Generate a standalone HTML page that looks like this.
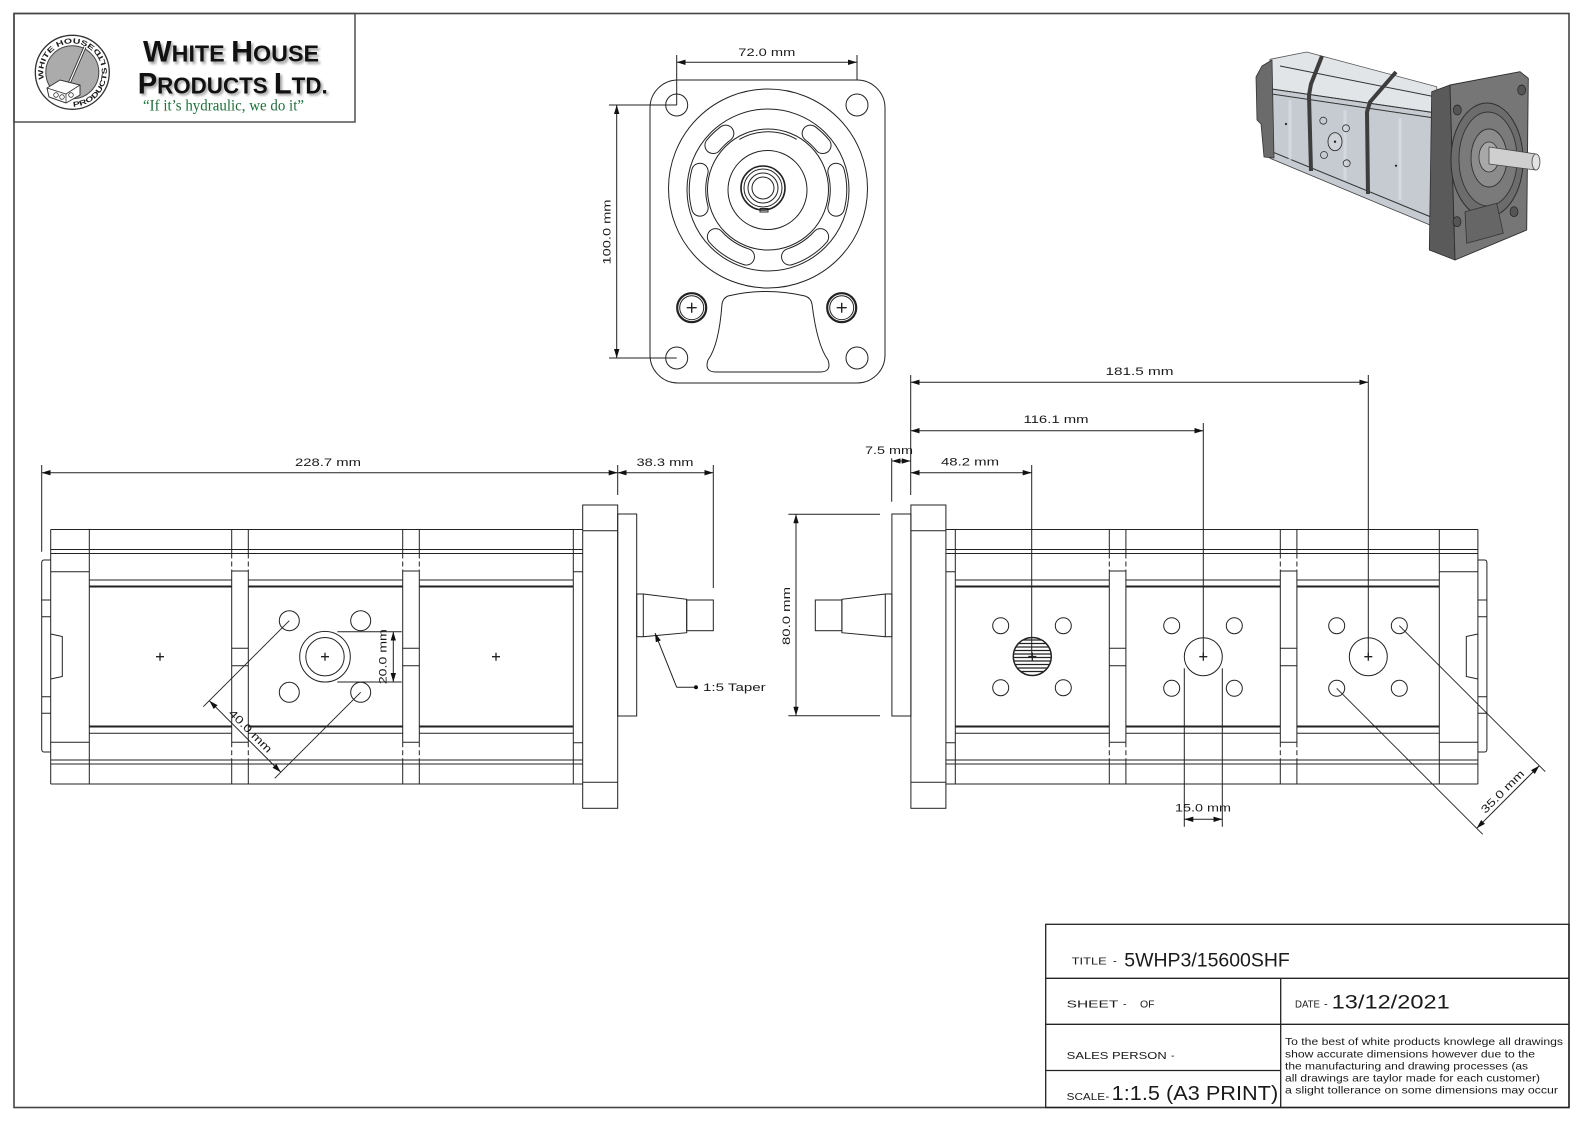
<!DOCTYPE html>
<html><head><meta charset="utf-8"><style>
html,body{margin:0;padding:0;background:#fff;}
svg{display:block;}
text{font-family:"Liberation Sans",Arial,sans-serif;fill:#1a1a1a;}
</style></head><body>
<svg width="1587" height="1122" viewBox="0 0 1587 1122" xmlns="http://www.w3.org/2000/svg">
<defs>
<marker id="ar" viewBox="0 0 10 6" refX="10" refY="3" markerWidth="9" markerHeight="5.4" markerUnits="userSpaceOnUse" orient="auto-start-reverse"><path d="M0,0L10,3L0,6z" fill="#111"/></marker>
<clipPath id="hc"><circle cx="1032.3" cy="656.5" r="18.5"/></clipPath>
<filter id="sh" x="-10%" y="-30%" width="130%" height="160%"><feGaussianBlur stdDeviation="1.3"/></filter>
<path id="arcTop" d="M45.05,82.2 A29,29 0 0 1 94.5,53.66" fill="none"/>
<path id="arcBot" d="M47.9,96.7 A34.5,34.5 0 1 0 89.55,42.4" fill="none"/>
<g id="body" fill="none" stroke="#222" stroke-width="1">
<path d="M50.7,560H44Q41.7,560 41.7,563V749Q41.7,752 44,752H50.7"/>
<path d="M41.7,600H50.7M41.7,616.7H50.7M41.7,696.7H50.7M41.7,713.3H50.7"/>
<path d="M50.7,634L62.3,636.5V676.5L50.7,679"/>
<path d="M50.7,529.5H582.7M50.7,549.5H582.7M50.7,553.5H582.7M50.7,760H582.7M50.7,764H582.7M50.7,784H582.7"/>
<path d="M50.7,529.5V784M89.3,529.5V784M50.7,571.7H89.3M50.7,742.3H89.3"/>
<path d="M89.3,580H231.7M248.3,580H402.7M419.3,580H573.3M89.3,733.3H231.7M248.3,733.3H402.7M419.3,733.3H573.3"/>
<path stroke-width="2" d="M89.3,586.5H231.7M248.3,586.5H402.7M419.3,586.5H573.3M89.3,726.5H231.7M248.3,726.5H402.7M419.3,726.5H573.3"/>
<path d="M231.7,529.5V553.5M231.7,571V742.3M231.7,760V784M248.3,529.5V553.5M248.3,571V742.3M248.3,760V784M402.7,529.5V553.5M402.7,571V742.3M402.7,760V784M419.3,529.5V553.5M419.3,571V742.3M419.3,760V784"/>
<path stroke-dasharray="5,3" d="M231.7,553.5V571M231.7,742.3V760M248.3,553.5V571M248.3,742.3V760M402.7,553.5V571M402.7,742.3V760M419.3,553.5V571M419.3,742.3V760"/>
<path d="M231.7,571H248.3M231.7,742.3H248.3M231.7,648.3H248.3M231.7,665.7H248.3M402.7,571H419.3M402.7,742.3H419.3M402.7,648.3H419.3M402.7,665.7H419.3"/>
<path d="M573.3,529.5V784M573.3,571.7H582.7M573.3,742.7H582.7"/>
<rect x="582.7" y="505" width="35" height="303.3"/>
<path d="M582.7,530.7H617.7M582.7,782.3H617.7"/>
<rect x="617.7" y="514" width="19" height="202"/>
<rect x="636.7" y="594" width="6.6" height="42.7"/>
<path d="M643.3,594L686.7,599.3V632.7L643.3,636.7"/>
<rect x="686.7" y="600" width="26.6" height="30.7"/>
</g>
</defs>

<!-- outer frame -->
<rect x="14" y="13.5" width="1555" height="1094" fill="none" stroke="#444" stroke-width="1.6"/>

<!-- logo box -->
<rect x="14" y="13.5" width="341" height="108.5" fill="none" stroke="#444" stroke-width="1.4"/>
<circle cx="72.3" cy="72.3" r="37" fill="#fff" stroke="#333" stroke-width="1.3"/>
<circle cx="72.3" cy="72.3" r="26.5" fill="#ababab" stroke="#444" stroke-width="1"/>
<text font-size="7.2" font-weight="bold"><textPath href="#arcTop" startOffset="3" textLength="74" lengthAdjust="spacingAndGlyphs">WHITE HOUSE</textPath></text>
<text font-size="7.2" font-weight="bold"><textPath href="#arcBot" startOffset="28" textLength="80" lengthAdjust="spacingAndGlyphs">PRODUCTS LTD</textPath></text>
<path d="M68,86 L85,47" stroke="#333" stroke-width="3"/>
<path d="M68,86 L85,47" stroke="#fff" stroke-width="1.2"/>
<path d="M47,88 L60,80 L80,85 L80,95 L66,103 L49,97 Z" fill="#fff" stroke="#333" stroke-width="1"/>
<path d="M47,88 L66,94 L80,85 M66,94 V103" fill="none" stroke="#333" stroke-width="0.8"/>
<circle cx="56" cy="95" r="2.3" fill="none" stroke="#333" stroke-width="0.8"/>
<circle cx="62" cy="97" r="2.3" fill="none" stroke="#333" stroke-width="0.8"/>
<circle cx="71" cy="95" r="2.3" fill="none" stroke="#333" stroke-width="0.8"/>
<g filter="url(#sh)" opacity="0.55">
<text x="145" y="64" font-weight="bold" font-size="30" textLength="176" lengthAdjust="spacingAndGlyphs" style="fill:#555">W<tspan font-size="23">HITE </tspan>H<tspan font-size="23">OUSE</tspan></text>
<text x="139.7" y="95.5" font-weight="bold" font-size="30" textLength="190" lengthAdjust="spacingAndGlyphs" style="fill:#555">P<tspan font-size="23">RODUCTS </tspan>L<tspan font-size="23">TD.</tspan></text>
</g>
<text x="143" y="61.5" font-weight="bold" font-size="30" textLength="176" lengthAdjust="spacingAndGlyphs" style="fill:#111">W<tspan font-size="23">HITE </tspan>H<tspan font-size="23">OUSE</tspan></text>
<text x="137.7" y="93.3" font-weight="bold" font-size="30" textLength="190" lengthAdjust="spacingAndGlyphs" style="fill:#111">P<tspan font-size="23">RODUCTS </tspan>L<tspan font-size="23">TD.</tspan></text>
<text x="143" y="110.5" font-size="15.5" textLength="161" lengthAdjust="spacingAndGlyphs" style="font-family:'Liberation Serif',serif;fill:#1f6e3b">“If it’s hydraulic, we do it”</text>

<!-- FRONT VIEW -->
<g fill="none" stroke="#222" stroke-width="1">
<rect x="650" y="80" width="235" height="303" rx="28"/>
<circle cx="676.7" cy="105" r="11"/>
<circle cx="857" cy="105" r="11"/>
<circle cx="676.7" cy="358" r="11"/>
<circle cx="857" cy="358" r="11"/>
<circle cx="768" cy="188.5" r="99.5"/>
<circle cx="768" cy="190" r="81"/>
<circle cx="768" cy="189.5" r="60.5"/>
<path d="M739.25,139.4 A58,58 0 0 1 796.75,139.4"/>
<circle cx="767.5" cy="190" r="39.5"/>
<circle cx="763" cy="188" r="22" stroke-width="1.6"/>
<circle cx="763" cy="188" r="19"/>
<circle cx="763" cy="188" r="15"/>
<circle cx="763" cy="188" r="11"/>
<rect x="760" y="208.5" width="8" height="3.5"/>
</g>
<g fill="none" stroke-linecap="round">
<path stroke="#222" stroke-width="17.5" d="M713.2,145.3 A70.5,70.5 0 0 1 725.6,133.4 M810.4,133.4 A70.5,70.5 0 0 1 822.8,145.3 M836.1,171.5 A70.5,70.5 0 0 1 836.1,207.9 M820.4,236.9 A70.5,70.5 0 0 1 789.8,256.8 M746.2,256.8 A70.5,70.5 0 0 1 715.6,236.9 M699.9,207.9 A70.5,70.5 0 0 1 699.9,171.5"/>
<path stroke="#fff" stroke-width="15.5" d="M713.2,145.3 A70.5,70.5 0 0 1 725.6,133.4 M810.4,133.4 A70.5,70.5 0 0 1 822.8,145.3 M836.1,171.5 A70.5,70.5 0 0 1 836.1,207.9 M820.4,236.9 A70.5,70.5 0 0 1 789.8,256.8 M746.2,256.8 A70.5,70.5 0 0 1 715.6,236.9 M699.9,207.9 A70.5,70.5 0 0 1 699.9,171.5"/>
</g>
<g fill="none" stroke="#222">
<circle cx="691.7" cy="307.7" r="14.5" stroke-width="2.2"/>
<circle cx="691.7" cy="307.7" r="12" stroke-width="1"/>
<circle cx="841.7" cy="307.7" r="14.5" stroke-width="2.2"/>
<circle cx="841.7" cy="307.7" r="12" stroke-width="1"/>
<path stroke-width="1.4" d="M686.7,307.7H696.7M691.7,302.7V312.7M836.7,307.7H846.7M841.7,302.7V312.7"/>
<path stroke-width="1" d="M728,296 Q766,287 805,296 Q811,298 812,304 Q817,345 828,360 Q832,372 820,372 H716 Q704,372 708,360 Q719,345 722,304 Q723,298 728,296 Z"/>
</g>
<!-- front dims -->
<g stroke="#222" stroke-width="1" fill="none">
<path d="M676.7,55V105M857,55V80M609,105H676.7M609,358H676.7"/>
<line x1="676.7" y1="62.3" x2="857" y2="62.3" marker-start="url(#ar)" marker-end="url(#ar)"/>
<line x1="616.7" y1="105" x2="616.7" y2="358" marker-start="url(#ar)" marker-end="url(#ar)"/>
</g>
<text x="766.8" y="56" font-size="11" text-anchor="middle" textLength="57" lengthAdjust="spacingAndGlyphs">72.0 mm</text>
<text transform="translate(610.5,232) rotate(-90)" font-size="11" text-anchor="middle" textLength="65" lengthAdjust="spacingAndGlyphs">100.0 mm</text>

<!-- LEFT VIEW -->
<use href="#body"/>
<g fill="none" stroke="#222" stroke-width="1">
<circle cx="325" cy="656.7" r="25.3"/>
<circle cx="325" cy="656.7" r="19.2"/>
<circle cx="289.3" cy="620.7" r="10"/>
<circle cx="360.7" cy="620.7" r="10"/>
<circle cx="289.3" cy="692.3" r="10"/>
<circle cx="360.7" cy="692.3" r="10"/>
<path stroke-width="1.3" d="M156,656.7H164M160,652.7V660.7M321,656.7H329M325,652.7V660.7M492,656.7H500M496,652.7V660.7"/>
</g>
<g stroke="#222" stroke-width="1" fill="none">
<path d="M41.7,465V551.7M617.7,465V495M713.3,465V588"/>
<line x1="41.7" y1="472.7" x2="617.7" y2="472.7" marker-start="url(#ar)" marker-end="url(#ar)"/>
<line x1="617.7" y1="472.7" x2="713.3" y2="472.7" marker-start="url(#ar)" marker-end="url(#ar)"/>
<path d="M337.3,631.7H401.7M337.3,682H401.7"/>
<line x1="393.3" y1="631.7" x2="393.3" y2="682" marker-start="url(#ar)" marker-end="url(#ar)"/>
<path stroke-width="0.9" d="M289.3,620.7L203.3,706.7M360.7,692.3L274.7,778.3"/>
<line x1="209.3" y1="700.7" x2="280.8" y2="772.2" marker-start="url(#ar)" marker-end="url(#ar)"/>
<path d="M676.7,687.3H696"/>
<line x1="676.7" y1="687.3" x2="655" y2="633" marker-end="url(#ar)"/>
</g>
<circle cx="696" cy="687.3" r="2" fill="#111"/>
<text x="328" y="466" font-size="11" text-anchor="middle" textLength="66" lengthAdjust="spacingAndGlyphs">228.7 mm</text>
<text x="665" y="466" font-size="11" text-anchor="middle" textLength="57" lengthAdjust="spacingAndGlyphs">38.3 mm</text>
<text transform="translate(386.5,656.7) rotate(-90)" font-size="11" text-anchor="middle" textLength="55" lengthAdjust="spacingAndGlyphs">20.0 mm</text>
<text transform="translate(245,736.5) rotate(45)" y="-4" font-size="11" text-anchor="middle" textLength="56" lengthAdjust="spacingAndGlyphs">40.0 mm</text>
<text x="703" y="691" font-size="11" textLength="62.7" lengthAdjust="spacingAndGlyphs">1:5 Taper</text>

<!-- RIGHT VIEW -->
<use href="#body" transform="translate(1528.6,0) scale(-1,1)"/>
<g clip-path="url(#hc)" stroke="#222" stroke-width="1.3">
<path d="M1010,640H1055M1010,643.5H1055M1010,647H1055M1010,650.5H1055M1010,654H1055M1010,657.5H1055M1010,661H1055M1010,664.5H1055M1010,668H1055M1010,671.5H1055"/>
</g>
<g fill="none" stroke="#222" stroke-width="1">
<circle cx="1032.3" cy="656.5" r="19" stroke-width="1.5"/>
<circle cx="1000.7" cy="625.7" r="8"/>
<circle cx="1063.3" cy="625.7" r="8"/>
<circle cx="1000.7" cy="687.7" r="8"/>
<circle cx="1063.3" cy="687.7" r="8"/>
<circle cx="1203.3" cy="656.7" r="19"/>
<circle cx="1171.7" cy="625.7" r="8"/>
<circle cx="1234.3" cy="625.7" r="8"/>
<circle cx="1171.7" cy="688.3" r="8"/>
<circle cx="1234.3" cy="688.3" r="8"/>
<circle cx="1368.3" cy="656.7" r="19"/>
<circle cx="1336.7" cy="625.7" r="8"/>
<circle cx="1399.3" cy="625.7" r="8"/>
<circle cx="1336.7" cy="688.3" r="8"/>
<circle cx="1399.3" cy="688.3" r="8"/>
<path stroke-width="1.3" d="M1028.3,656.5H1036.3M1032.3,652.5V660.5M1199.3,656.7H1207.3M1203.3,652.7V660.7M1364.3,656.7H1372.3M1368.3,652.7V660.7"/>
</g>
<g stroke="#222" stroke-width="1" fill="none">
<path d="M910.7,375V495M891.7,458.3V501.7M1368.3,375V656.7M1203.3,423V656.7M1031.7,465V656.5"/>
<line x1="910.7" y1="382.3" x2="1368.3" y2="382.3" marker-start="url(#ar)" marker-end="url(#ar)"/>
<line x1="910.7" y1="430.7" x2="1203.3" y2="430.7" marker-start="url(#ar)" marker-end="url(#ar)"/>
<line x1="910.7" y1="472.7" x2="1031.7" y2="472.7" marker-start="url(#ar)" marker-end="url(#ar)"/>
<line x1="891.7" y1="461" x2="910.7" y2="461" marker-start="url(#ar)" marker-end="url(#ar)"/>
<path d="M788.3,514.3H880M788.3,715.7H880"/>
<line x1="796" y1="514.3" x2="796" y2="715.7" marker-start="url(#ar)" marker-end="url(#ar)"/>
<path d="M1184.3,668.3V826.7M1222.3,668.3V826.7"/>
<line x1="1184.3" y1="819.3" x2="1222.3" y2="819.3" marker-start="url(#ar)" marker-end="url(#ar)"/>
<path stroke-width="0.9" d="M1399.3,625.7L1545.3,771.7M1336.7,688.3L1482.7,834.3"/>
<line x1="1476.7" y1="828.3" x2="1539.3" y2="765.7" marker-start="url(#ar)" marker-end="url(#ar)"/>
</g>
<text x="1139.5" y="375" font-size="11" text-anchor="middle" textLength="68" lengthAdjust="spacingAndGlyphs">181.5 mm</text>
<text x="1056" y="423" font-size="11" text-anchor="middle" textLength="65" lengthAdjust="spacingAndGlyphs">116.1 mm</text>
<text x="970" y="465.5" font-size="11" text-anchor="middle" textLength="58" lengthAdjust="spacingAndGlyphs">48.2 mm</text>
<text x="889" y="454" font-size="11" text-anchor="middle" textLength="48" lengthAdjust="spacingAndGlyphs">7.5 mm</text>
<text transform="translate(790,616) rotate(-90)" font-size="11" text-anchor="middle" textLength="58" lengthAdjust="spacingAndGlyphs">80.0 mm</text>
<text x="1203" y="811.7" font-size="11" text-anchor="middle" textLength="56" lengthAdjust="spacingAndGlyphs">15.0 mm</text>
<text transform="translate(1508,797) rotate(-45)" y="-4" font-size="11" text-anchor="middle" textLength="56" lengthAdjust="spacingAndGlyphs">35.0 mm</text>

<!-- 3D PUMP -->
<g stroke-linejoin="round">
<polygon points="1270,59.3 1306.7,52 1436.7,86.7 1438.3,113.3 1266.7,88.3" fill="#e2e5e8" stroke="#555" stroke-width="0.8"/>
<polygon points="1266.7,88.3 1438.3,113.3 1430,225 1270,158.3" fill="#c6cbd1" stroke="#444" stroke-width="0.8"/>
<path d="M1266.7,88.3L1438.3,113.3M1268,93.5L1438,118.5M1270,151L1431,217M1280,66L1436,97" stroke="#333" stroke-width="1" fill="none"/>
<path d="M1290,100L1290,160M1345,110L1345,180M1400,118L1400,200" stroke="#dfe2e6" stroke-width="3" fill="none" opacity="0.6"/>
<polygon points="1256,77 1262,66 1272,60 1274,158 1264,157 1261,124 1257,120" fill="#6b6b6b" stroke="#333" stroke-width="0.8"/>
<path d="M1322,56 L1311,84 L1309,95 L1311,171 M1396,72 L1370,102 L1367,112 L1368,194" stroke="#3d3d3d" stroke-width="4" fill="none"/>
<ellipse cx="1335" cy="141.7" rx="7" ry="9" fill="#d0d4d9" stroke="#333" stroke-width="0.9"/>
<circle cx="1335" cy="141.7" r="1.2" fill="#222"/>
<circle cx="1323.3" cy="120.7" r="3.5" fill="none" stroke="#333" stroke-width="0.8"/>
<circle cx="1346" cy="128.3" r="3.5" fill="none" stroke="#333" stroke-width="0.8"/>
<circle cx="1324" cy="155" r="3.5" fill="none" stroke="#333" stroke-width="0.8"/>
<circle cx="1346.7" cy="163.3" r="3.5" fill="none" stroke="#333" stroke-width="0.8"/>
<circle cx="1286" cy="124" r="1.1" fill="#222"/>
<circle cx="1396" cy="165.7" r="1.1" fill="#222"/>
<polygon points="1431.7,91.7 1450,85 1455,260 1429.3,250" fill="#5a5a5a" stroke="#2e2e2e" stroke-width="0.8"/>
<polygon points="1450,85 1520,71.7 1528.3,78.3 1526.7,230 1455,260" fill="#767676" stroke="#2e2e2e" stroke-width="0.9"/>
<ellipse cx="1487" cy="160" rx="36" ry="57" fill="#6c6c6c" stroke="#2f2f2f" stroke-width="1"/>
<ellipse cx="1488" cy="159" rx="29" ry="47" fill="#7a7a7a" stroke="#333" stroke-width="0.9"/>
<ellipse cx="1489" cy="158" rx="18" ry="29" fill="#8c8c8c" stroke="#333" stroke-width="0.9"/>
<ellipse cx="1489" cy="157" rx="10" ry="15" fill="#a8a8a8" stroke="#333" stroke-width="0.8"/>
<polygon points="1489,147 1536,154 1536,170 1489,164" fill="#cfcfcf" stroke="#444" stroke-width="0.8"/>
<ellipse cx="1536" cy="162" rx="4" ry="8" fill="#e2e2e2" stroke="#444" stroke-width="0.8"/>
<ellipse cx="1457.3" cy="110" rx="4" ry="5" fill="#555" stroke="#222" stroke-width="0.7"/>
<ellipse cx="1521.7" cy="90" rx="4" ry="5" fill="#555" stroke="#222" stroke-width="0.7"/>
<ellipse cx="1457" cy="221.7" rx="4" ry="5" fill="#555" stroke="#222" stroke-width="0.7"/>
<ellipse cx="1514" cy="211.7" rx="4" ry="5" fill="#555" stroke="#222" stroke-width="0.7"/>
<polygon points="1465,211.7 1496.7,203.3 1503.3,233.3 1466.7,243.3" fill="#666" stroke="#333" stroke-width="0.8"/>
</g>

<!-- TITLE BLOCK -->
<g fill="none" stroke="#222" stroke-width="1.3">
<rect x="1045.7" y="924.3" width="523.3" height="183.2"/>
<path d="M1045.7,978.3H1569M1045.7,1024.3H1569M1045.7,1070.5H1280.7M1280.7,978.3V1107.5"/>
</g>
<text x="1071.7" y="964.5" font-size="10" textLength="35" lengthAdjust="spacingAndGlyphs">TITLE</text>
<text x="1113" y="964.5" font-size="11">-</text>
<text x="1124.3" y="966.5" font-size="19" textLength="165.5" lengthAdjust="spacingAndGlyphs">5WHP3/15600SHF</text>
<text x="1066.7" y="1007.5" font-size="10.5" textLength="51.6" lengthAdjust="spacingAndGlyphs">SHEET</text>
<text x="1123" y="1007.5" font-size="10.5">-</text>
<text x="1140" y="1007.5" font-size="10.5">OF</text>
<text x="1295" y="1007.5" font-size="10" textLength="25" lengthAdjust="spacingAndGlyphs">DATE</text>
<text x="1324" y="1007.5" font-size="11">-</text>
<text x="1331.7" y="1008.3" font-size="19" textLength="118" lengthAdjust="spacingAndGlyphs">13/12/2021</text>
<text x="1066.7" y="1059" font-size="10.5" textLength="100" lengthAdjust="spacingAndGlyphs">SALES PERSON</text>
<text x="1171" y="1059" font-size="10.5">-</text>
<text x="1066.7" y="1100" font-size="10" textLength="38.3" lengthAdjust="spacingAndGlyphs">SCALE</text>
<text x="1105.5" y="1100" font-size="11">-</text>
<text x="1111.7" y="1100" font-size="20" textLength="166.5" lengthAdjust="spacingAndGlyphs">1:1.5 (A3 PRINT)</text>
<g font-size="10.5">
<text x="1285" y="1045" textLength="278" lengthAdjust="spacingAndGlyphs">To the best of white products knowlege all drawings</text>
<text x="1285" y="1057.3" textLength="250" lengthAdjust="spacingAndGlyphs">show accurate dimensions however due to the</text>
<text x="1285" y="1069.5" textLength="243" lengthAdjust="spacingAndGlyphs">the manufacturing and drawing processes (as</text>
<text x="1285" y="1081.5" textLength="255" lengthAdjust="spacingAndGlyphs">all drawings are taylor made for each customer)</text>
<text x="1285" y="1093.5" textLength="273" lengthAdjust="spacingAndGlyphs">a slight tollerance on some dimensions may occur</text>
</g>
</svg>
</body></html>
